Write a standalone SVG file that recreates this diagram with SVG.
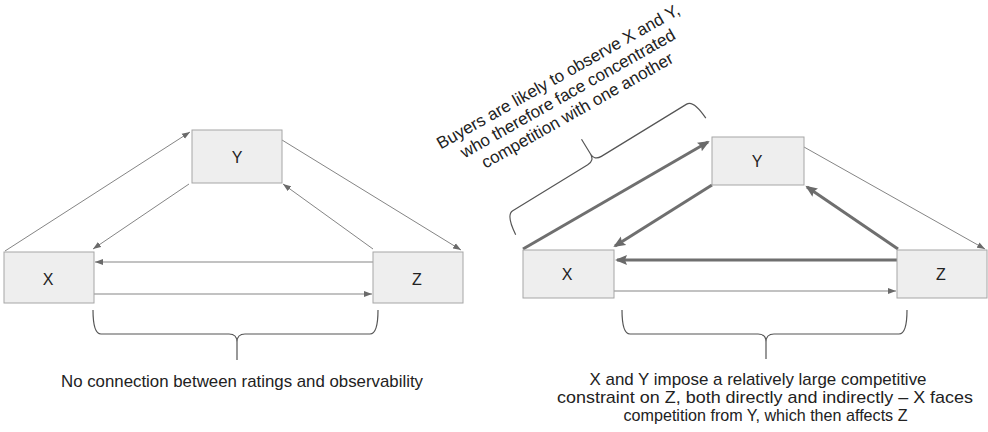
<svg xmlns="http://www.w3.org/2000/svg" width="988" height="432" viewBox="0 0 988 432">
<defs>
<style>
.box{fill:#eeeeee;stroke:#a6a6a6;stroke-width:1}
.lbl{font-family:"Liberation Sans",Arial,sans-serif;font-size:16px;fill:#222;text-anchor:middle}
.txt{font-family:"Liberation Sans",Arial,sans-serif;font-size:17px;fill:#222;text-anchor:middle}
.thin{stroke:#858585;stroke-width:1;fill:none;marker-end:url(#ah)}
.thick{stroke:#6f6f6f;stroke-width:3;fill:none;marker-end:url(#ahb)}
.brace{stroke:#555;stroke-width:1.2;fill:none}
</style>
<marker id="ah" markerUnits="userSpaceOnUse" markerWidth="9" markerHeight="7" refX="8" refY="3.5" orient="auto">
<path d="M0,0.5 L8,3.5 L0,6.5 z" fill="#6a6a6a"/>
</marker>
<marker id="ahb" markerUnits="userSpaceOnUse" markerWidth="13" markerHeight="11" refX="10" refY="5.5" orient="auto">
<path d="M0,0.5 L12,5.5 L0,10.5 L2,5.5 z" fill="#6a6a6a"/>
</marker>
</defs>
<rect width="988" height="432" fill="#ffffff"/>

<g id="connectors">
<path class="thin" d="M5,251 L190,132"/>
<path class="thin" d="M189,184 L93,249"/>
<path class="thin" d="M282,140 L461,250"/>
<path class="thin" d="M373,249 L283,184"/>
<path class="thin" d="M373,262 L95,262"/>
<path class="thin" d="M94,294 L372,294"/>
<path class="thick" d="M523,249 L708,142"/>
<path class="thick" d="M712,185 L615,246"/>
<path class="thin" d="M804,147 L985,249"/>
<path class="thick" d="M898,249 L807,187"/>
<path class="thick" d="M897,260 L617,260"/>
<path class="thin" d="M614,291 L896,291"/>
</g>

<g id="left-Y"><rect class="box" x="192" y="130" width="90" height="53"/><text class="lbl" x="237" y="163">Y</text></g>
<g id="left-X"><rect class="box" x="4" y="252" width="90" height="51"/><text class="lbl" x="48" y="285">X</text></g>
<g id="left-Z"><rect class="box" x="373" y="252" width="90" height="51"/><text class="lbl" x="417" y="285">Z</text></g>

<g id="right-Y"><rect class="box" x="712" y="137" width="92" height="48"/><text class="lbl" x="757" y="167">Y</text></g>
<g id="right-X"><rect class="box" x="523" y="250" width="91" height="48"/><text class="lbl" x="567" y="280">X</text></g>
<g id="right-Z"><rect class="box" x="897" y="250" width="90" height="48"/><text class="lbl" x="941" y="280">Z</text></g>

<g id="brace-left">
<path class="brace" d="M93,310 Q93,334 101,334 L229,334 Q237,334 237,342 L237,360 M237,342 Q237,334 245,334 L370,334 Q378,334 378,310"/>
<text class="txt" x="242" y="387" textLength="362" lengthAdjust="spacingAndGlyphs">No connection between ratings and observability</text>
</g>

<g id="brace-right">
<path class="brace" d="M622,310 Q622,334 630,334 L758,334 Q766,334 766,342 L766,359 M766,342 Q766,334 774,334 L899,334 Q907,334 907,310"/>
<text class="txt" x="758" y="385" textLength="337" lengthAdjust="spacingAndGlyphs">X and Y impose a relatively large competitive</text>
<text class="txt" x="765" y="403" textLength="416" lengthAdjust="spacingAndGlyphs">constraint on Z, both directly and indirectly – X faces</text>
<text class="txt" x="765.5" y="421" textLength="284" lengthAdjust="spacingAndGlyphs">competition from Y, which then affects Z</text>
</g>

<g id="brace-top">
<path class="brace" transform="translate(593,158) rotate(-31.5)" d="M-106,25 Q-104,3 -96,3 L-8,3 Q0,3 0,-5 L0,-22 M0,-5 Q0,3 8,3 L108,3 Q116,3 117,25"/>
<g transform="translate(561,81.5) rotate(-29.5)">
<text class="txt" x="0" y="0">Buyers are likely to observe X and Y,</text>
<text class="txt" x="0" y="19.4">who therefore face concentrated</text>
<text class="txt" x="0" y="38.8">competition with one another</text>
</g>
</g>
</svg>
